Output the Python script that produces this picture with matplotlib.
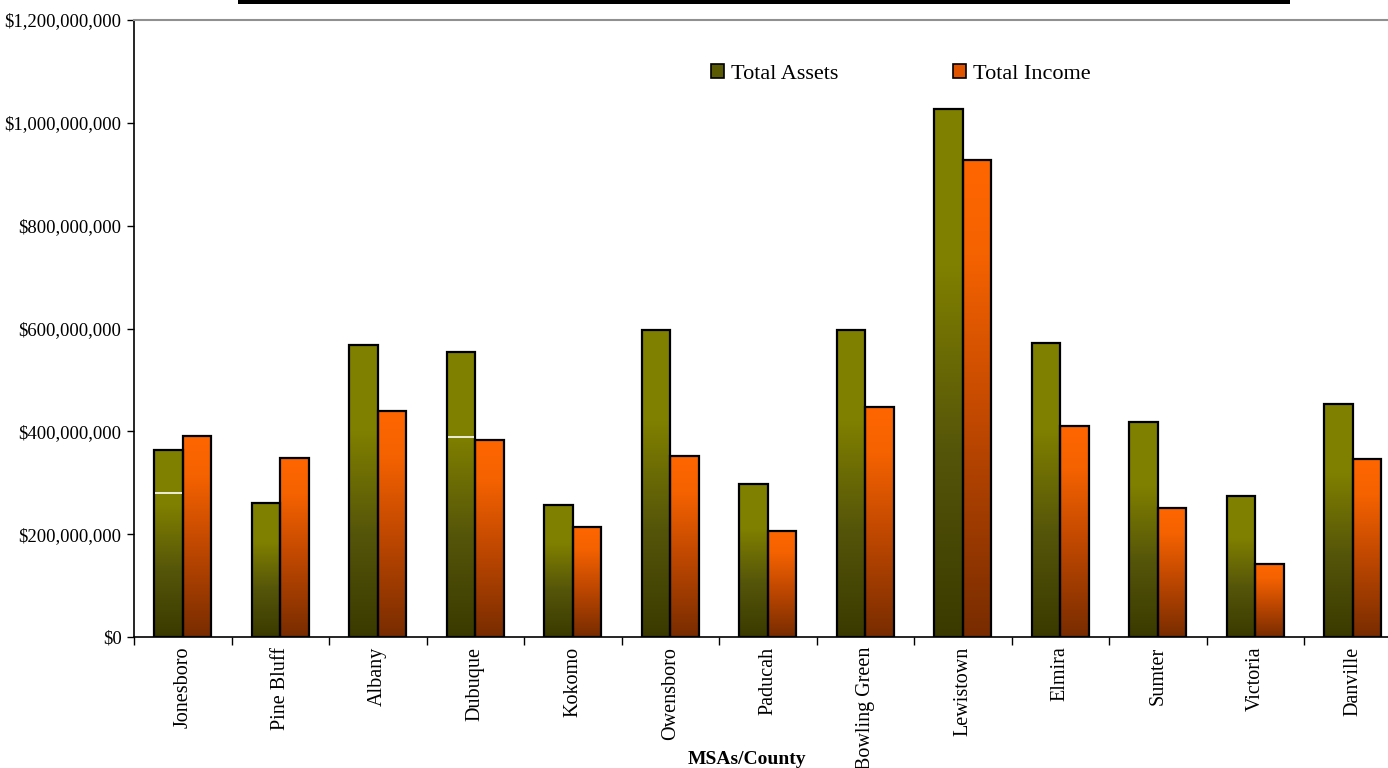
import numpy as np
import matplotlib
matplotlib.use("Agg")
import matplotlib.pyplot as plt
from matplotlib.colors import LinearSegmentedColormap
from matplotlib.patches import Rectangle
from matplotlib.ticker import FuncFormatter, FixedLocator

categories = ["Jonesboro", "Pine Bluff", "Albany", "Dubuque", "Kokomo", "Owensboro",
              "Paducah", "Bowling Green", "Lewistown", "Elmira", "Sumter", "Victoria",
              "Danville"]
total_assets = [364e6, 261e6, 568e6, 555e6, 257e6, 597e6, 298e6, 597e6, 1026e6,
                572e6, 418e6, 274e6, 453e6]
total_income = [391e6, 348e6, 440e6, 383e6, 214e6, 352e6, 206e6, 447e6, 928e6,
                410e6, 251e6, 142e6, 346e6]
# thin white marks inside two asset bars
mark_index = [0, 3]
mark_value = [280e6, 389e6]

plt.rcParams["font.family"] = ["Liberation Serif", "DejaVu Serif"]

fig = plt.figure(figsize=(13.88, 7.68), dpi=100)
# plot area runs slightly past the right edge of the canvas
ax_left, ax_right = 134.0, 1401.5
ax = fig.add_axes([ax_left / 1388, 1 - 637 / 768, (ax_right - ax_left) / 1388,
                   (637 - 20) / 768])

cm_assets = LinearSegmentedColormap.from_list(
    "assets", [(0, "#3a3a00"), (0.35, "#55550a"), (0.7, "#7f7f00"), (1, "#808000")])
cm_income = LinearSegmentedColormap.from_list(
    "income", [(0, "#782c00"), (0.45, "#c04800"), (0.8, "#f56200"), (1, "#ff6600")])

width = 0.29
x = np.arange(len(categories))
grad = np.linspace(0, 1, 256).reshape(-1, 1)


def gradient_bars(xs, heights, cmap):
    bars = ax.bar(xs, heights, width=width, facecolor="none", edgecolor="black",
                  linewidth=1.6, zorder=3)
    for b in bars:
        x0, w, h = b.get_x(), b.get_width(), b.get_height()
        ax.imshow(grad, extent=[x0, x0 + w, 0, h], origin="lower", cmap=cmap,
                  aspect="auto", zorder=2, interpolation="bicubic")
    return bars


gradient_bars(x - width / 2, total_assets, cm_assets)
gradient_bars(x + width / 2, total_income, cm_income)

for i, v in zip(mark_index, mark_value):
    ax.hlines(v, i - width + 0.01, i - 0.01, color="white", linewidth=1.2, zorder=4)

ax.set_xlim(-0.5, len(categories) - 0.5)
ax.set_ylim(0, 1.2e9)
ax.set_yticks(np.arange(0, 1.2e9 + 1, 2e8))
ax.yaxis.set_major_formatter(FuncFormatter(lambda v, p: "${:,.0f}".format(v)))
ax.tick_params(axis="y", direction="out", length=5, width=1, labelsize=13.5, pad=4)

ax.set_xticks(x)
ax.set_xticklabels(categories, rotation=90, fontsize=14.5, va="top")
ax.xaxis.set_minor_locator(FixedLocator(np.arange(-0.5, len(categories), 1.0)))
ax.tick_params(axis="x", which="major", length=0, pad=7)
ax.tick_params(axis="x", which="minor", direction="out", length=6, width=1)

ax.spines["right"].set_visible(False)
ax.spines["top"].set_color("#909090")
ax.spines["top"].set_linewidth(1.5)
ax.spines["left"].set_linewidth(1.2)
ax.spines["bottom"].set_linewidth(1.2)

handles = [Rectangle((0, 0), 1, 1, facecolor="#5a5a05", edgecolor="black", linewidth=1.2),
           Rectangle((0, 0), 1, 1, facecolor="#e05400", edgecolor="black", linewidth=1.2)]
ax.legend(handles, ["Total Assets", "Total Income"], ncol=2, frameon=False,
          loc="center left",
          bbox_to_anchor=((711 - ax_left) / (ax_right - ax_left), (637 - 74) / 617),
          fontsize=16, handlelength=0.6, handleheight=0.6, handletextpad=0.3,
          columnspacing=5.15, borderaxespad=0, borderpad=0)

fig.text(747 / 1388, 1 - 759 / 768, "MSAs/County", ha="center", va="center",
         fontsize=14, fontweight="bold")

# black band along the top edge
fig.patches.append(Rectangle((238 / 1388, 1 - 4 / 768), (1290 - 238) / 1388, 4 / 768,
                             transform=fig.transFigure, facecolor="black",
                             edgecolor="none", zorder=5))

fig.savefig("out.png", dpi=100)
